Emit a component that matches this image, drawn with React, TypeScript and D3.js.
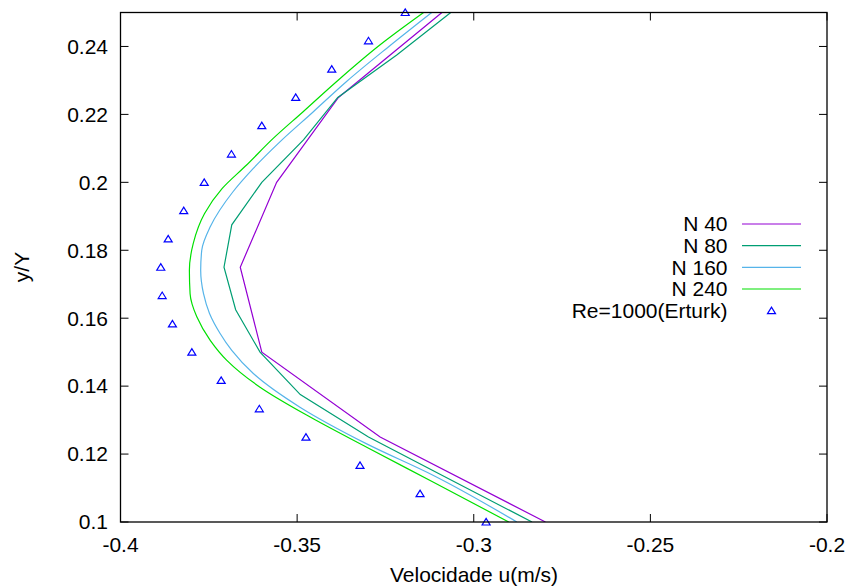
import React from "react";
import * as d3 from "d3";

// ---- data (y/Y, u) ----
const n40Y = [0.1, 0.125, 0.15, 0.175, 0.2, 0.225, 0.25];
const n40U = [-0.2797, -0.3265, -0.36, -0.3661, -0.3558, -0.3383, -0.309];

const n80Y = [0.1, 0.1125, 0.125, 0.1375, 0.15, 0.1625, 0.175, 0.1875, 0.2, 0.2125, 0.225, 0.2375, 0.25];
const n80U = [-0.2835, -0.3067, -0.3298, -0.3491, -0.3605, -0.3674, -0.3707, -0.3685, -0.36, -0.3482, -0.3385, -0.3218, -0.3065];

const n160Y = [0.1, 0.1137, 0.123, 0.1338, 0.1437, 0.1505, 0.1555, 0.1614, 0.1672, 0.1741, 0.18, 0.1869, 0.1973, 0.2041, 0.212, 0.2208, 0.2297, 0.2395, 0.25];
const n160U = [-0.2878, -0.3114, -0.3303, -0.3492, -0.3624, -0.3685, -0.3718, -0.3748, -0.3765, -0.3773, -0.377, -0.3746, -0.3681, -0.3624, -0.3548, -0.3454, -0.336, -0.3246, -0.3119];

const n240Y = [0.1, 0.1117, 0.122, 0.1309, 0.1397, 0.1476, 0.1535, 0.1604, 0.1672, 0.1741, 0.182, 0.1908, 0.1982, 0.2051, 0.213, 0.2208, 0.2297, 0.2405, 0.25];
const n240U = [-0.2901, -0.3114, -0.3303, -0.3463, -0.3605, -0.3699, -0.3746, -0.3784, -0.3803, -0.3805, -0.3794, -0.3762, -0.3712, -0.3643, -0.3567, -0.3483, -0.3388, -0.3265, -0.3142];

const erturkY = [0.1, 0.10833, 0.11667, 0.125, 0.13333, 0.14167, 0.15, 0.15833, 0.16667, 0.175, 0.18333, 0.19167, 0.2, 0.20833, 0.21667, 0.225, 0.23333, 0.24167, 0.25];
const erturkU = [-0.2965, -0.3152, -0.3322, -0.3475, -0.3607, -0.3715, -0.3798, -0.3853, -0.3882, -0.3886, -0.3865, -0.3821, -0.3763, -0.3686, -0.36, -0.3504, -0.3402, -0.3298, -0.3194];

const xTicks = [-0.4, -0.35, -0.3, -0.25, -0.2];
const xTickLabels = ["-0.4", "-0.35", "-0.3", "-0.25", "-0.2"];
const yTicks = [0.1, 0.12, 0.14, 0.16, 0.18, 0.2, 0.22, 0.24];
const yTickLabels = ["0.1", "0.12", "0.14", "0.16", "0.18", "0.2", "0.22", "0.24"];

const seriesNames = ["N 40", "N 80", "N 160", "N 240"];
const erturkName = "Re=1000(Erturk)";
const xTitle = "Velocidade u(m/s)";
const yTitle = "y/Y";

const COLORS = ["#9400d3", "#009e73", "#56b4e9", "#00e000"];
const FONT = "'Liberation Sans', Arial, Helvetica, sans-serif";

export default function App() {
  const W = 847, H = 587;
  const L = 120.5, R = 827, T = 12.5, B = 522;
  const x = d3.scaleLinear().domain([-0.4, -0.2]).range([L, R]);
  const y = d3.scaleLinear().domain([0.1, 0.25]).range([B, T]);

  const series = [
    { Y: n40Y, U: n40U, curve: d3.curveLinear },
    { Y: n80Y, U: n80U, curve: d3.curveLinear },
    { Y: n160Y, U: n160U, curve: d3.curveMonotoneY },
    { Y: n240Y, U: n240U, curve: d3.curveMonotoneY },
  ];

  const mkPath = (s: any) =>
    d3
      .line<number>()
      .x((_, i) => x(s.U[i]))
      .y((v) => y(v))
      .curve(s.curve)(s.Y) as string;

  const tri = (cx: number, cy: number) =>
    `M${cx - 4},${cy + 3} L${cx + 4},${cy + 3} L${cx},${cy - 3.5} Z`;

  const tickLen = 8;
  const legendRows = [224, 245.7, 267.3, 289, 310.7];

  return (
    <svg
      width={W}
      height={H}
      style={{ position: "absolute", left: 0, top: 0, background: "#fff" }}
      fontFamily={FONT}
      fontSize={21}
    >
      <defs>
        <clipPath id="plotclip">
          <rect x={L} y={T} width={R - L} height={B - T} />
        </clipPath>
      </defs>
      <rect x={0} y={0} width={W} height={H} fill="#fff" />

      {/* ticks */}
      {xTicks.map((t, i) => (
        <g key={"xt" + i}>
          <line x1={x(t)} x2={x(t)} y1={B} y2={B - tickLen} stroke="#000" strokeWidth={1} />
          <line x1={x(t)} x2={x(t)} y1={T} y2={T + tickLen} stroke="#000" strokeWidth={1} />
          <text x={x(t)} y={552} textAnchor="middle" fill="#000">
            {xTickLabels[i]}
          </text>
        </g>
      ))}
      {yTicks.map((t, i) => (
        <g key={"yt" + i}>
          <line x1={L} x2={L + tickLen} y1={y(t)} y2={y(t)} stroke="#000" strokeWidth={1} />
          <line x1={R} x2={R - tickLen} y1={y(t)} y2={y(t)} stroke="#000" strokeWidth={1} />
          <text x={108} y={y(t)} dy="0.35em" textAnchor="end" fill="#000">
            {yTickLabels[i]}
          </text>
        </g>
      ))}

      {/* lines */}
      <g clipPath="url(#plotclip)">
        {series.map((s, i) => (
          <path key={"s" + i} d={mkPath(s)} fill="none" stroke={COLORS[i]} strokeWidth={1.2} />
        ))}
      </g>

      {/* Erturk points */}
      {erturkY.map((v, i) => (
        <path key={"e" + i} d={tri(x(erturkU[i]), y(v))} fill="none" stroke="#0000ff" strokeWidth={1.2} />
      ))}

      {/* border */}
      <rect x={L} y={T} width={R - L} height={B - T} fill="none" stroke="#000" strokeWidth={1.3} />

      {/* legend */}
      {seriesNames.map((n, i) => (
        <g key={"lg" + i}>
          <text x={727.5} y={legendRows[i]} dy="0.35em" textAnchor="end" fill="#000">
            {n}
          </text>
          <line x1={742} x2={801} y1={legendRows[i]} y2={legendRows[i]} stroke={COLORS[i]} strokeWidth={1.2} />
        </g>
      ))}
      <text x={727.5} y={legendRows[4]} dy="0.35em" textAnchor="end" fill="#000">
        {erturkName}
      </text>
      <path d={tri(771.5, legendRows[4])} fill="none" stroke="#0000ff" strokeWidth={1.2} />

      {/* axis titles */}
      <text x={474} y={582} textAnchor="middle" fill="#000">
        {xTitle}
      </text>
      <text transform={`translate(29,267) rotate(-90)`} textAnchor="middle" fill="#000">
        {yTitle}
      </text>
    </svg>
  );
}
